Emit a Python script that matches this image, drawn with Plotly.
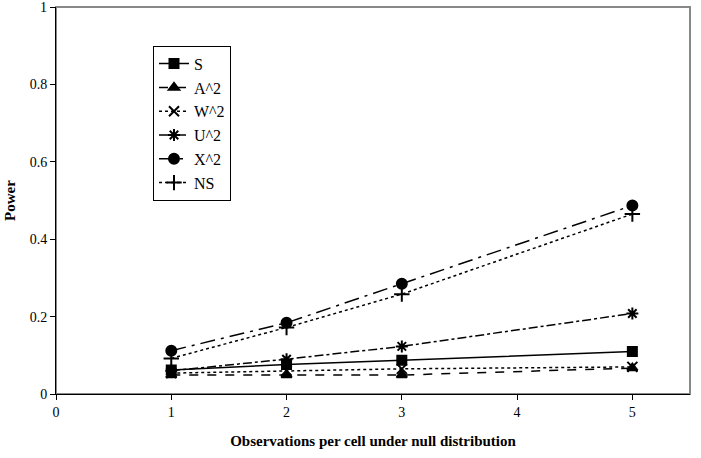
import plotly.graph_objects as go

x_vals = [1, 2, 3, 5]
names = ["S", "A^2", "W^2", "U^2", "X^2", "NS"]
s_vals = [0.062, 0.076, 0.087, 0.110]
a2_vals = [0.049, 0.049, 0.049, 0.067]
w2_vals = [0.054, 0.060, 0.065, 0.070]
u2_vals = [0.060, 0.090, 0.123, 0.208]
x2_vals = [0.112, 0.184, 0.285, 0.487]
ns_vals = [0.092, 0.172, 0.258, 0.465]
series = [s_vals, a2_vals, w2_vals, u2_vals, x2_vals, ns_vals]
y_ticks = [0, 0.2, 0.4, 0.6, 0.8, 1]
y_ticktext = ["0", "0.2", "0.4", "0.6", "0.8", "1"]

dashes = ["solid", "dash", "dot", "dashdot", "longdashdot", "dot"]
symbols = ["square", "triangle-up", "x-thin-open", "asterisk-open", "circle", "cross-thin-open"]
sizes = [9, 9, 10, 10, 10, 11]

fig = go.Figure()
for n, v, d, s, sz in zip(names, series, dashes, symbols, sizes):
    fig.add_trace(go.Scatter(
        x=x_vals, y=v, name=n, mode="lines+markers",
        line=dict(color="black", width=1.5, dash=d),
        marker=dict(symbol=s, size=sz, color="black",
                    line=dict(color="black", width=2)),
    ))

tickfont = dict(family="Liberation Serif", size=14, color="black")

# top tick label would be hidden by plotly near the page edge, so draw it as an annotation
fig.add_annotation(text=y_ticktext[-1], xref="paper", x=0, xanchor="right", xshift=-7,
                   yref="y", y=y_ticks[-1], yanchor="middle", showarrow=False,
                   font=tickfont)

fig.update_layout(
    width=701, height=458,
    margin=dict(l=56, r=11, t=7, b=64, autoexpand=False),
    paper_bgcolor="white", plot_bgcolor="white",
    font=dict(family="Liberation Serif", size=14, color="black"),
    showlegend=True,
    legend=dict(x=0.153, y=0.9, xanchor="left", yanchor="top",
                bordercolor="black", borderwidth=1, bgcolor="white",
                font=dict(family="Liberation Serif", size=16, color="black"),
                tracegroupgap=0, itemwidth=30),
    xaxis=dict(range=[0, 5.5], tickvals=[0, 1, 2, 3, 4, 5],
               showline=True, linecolor="black", linewidth=1,
               ticks="outside", ticklen=5, tickcolor="black",
               tickfont=tickfont, automargin=False,
               showgrid=False, zeroline=False,
               title=dict(text="<b>Observations per cell under null distribution</b>",
                          font=dict(size=15, color="black"), standoff=16)),
    yaxis=dict(range=[0, 1], tickvals=y_ticks,
               ticktext=y_ticktext[:-1] + [""],
               showline=True, linecolor="black", linewidth=1,
               ticks="outside", ticklen=5, tickcolor="black",
               tickfont=tickfont, automargin=False,
               showgrid=False, zeroline=False,
               title=dict(text="<b>Power</b>", font=dict(size=15, color="black"), standoff=10)),
    shapes=[dict(type="rect", xref="paper", yref="paper", x0=0, y0=0, x1=1, y1=1,
                 line=dict(color="#888888", width=2), layer="below")],
)

fig.write_html("out.html")
